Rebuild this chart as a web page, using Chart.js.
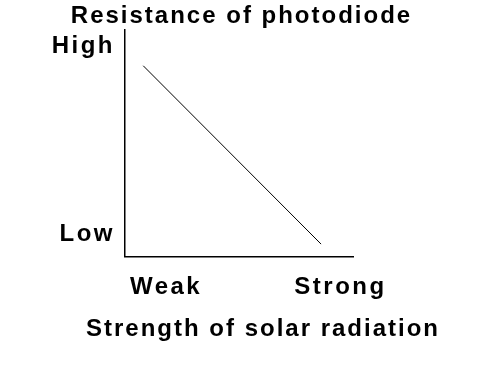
<!DOCTYPE html>
<html>
<head>
<meta charset="utf-8">
<script src="https://cdn.jsdelivr.net/npm/chart.js@4.4.1/dist/chart.umd.min.js"></script>
<style>
    html, body { margin: 0; padding: 0; background: #fff; }
    #wrap { width: 496px; height: 370px; }
</style>
</head>
<body>
<div id="wrap"><canvas id="chart"></canvas></div>
<script>
// sketch values (axis runs 0..10 both ways)
const lineX = [0.8, 8.6];
const lineY = [8.4, 0.55];
const xTickValues = [1.8, 9.45];
const xTickLabels = ["Weak", "Strong"];
const yTickValues = [0.98, 9.25];
const yTickLabels = ["Low", "High"];

const FONT = "'Liberation Sans', Arial, sans-serif";

// the scanned lettering is spaced out, the tick words a bit more than the titles
const spacingPlugin = {
    id: "spacing",
    beforeLayout(chart) { chart.ctx.letterSpacing = "2px"; },
    beforeDraw(chart) { chart.ctx.letterSpacing = "2px"; },
    afterDatasetsDraw(chart) { chart.ctx.letterSpacing = "2.5px"; }
};

document.addEventListener("DOMContentLoaded", () => {
    const ctx = document.getElementById("chart").getContext("2d");

    new Chart(ctx, {
        type: "line",
        data: {
            datasets: [{
                data: lineX.map((x, i) => ({ x: x, y: lineY[i] })),
                borderColor: "#000",
                borderWidth: 1,
                pointRadius: 0,
                fill: false,
                tension: 0
            }]
        },
        options: {
            responsive: true,
            maintainAspectRatio: false,
            animation: false,
            layout: { padding: { left: 43, right: 56, top: 0, bottom: 0 } },
            plugins: {
                legend: { display: false },
                tooltip: { enabled: false },
                title: {
                    display: true,
                    text: "Resistance of photodiode",
                    color: "#000",
                    font: { family: FONT, size: 24, weight: "bold", lineHeight: 1.1 },
                    padding: { top: 3, bottom: 0 }
                },
                subtitle: {
                    display: true,
                    position: "bottom",
                    align: "end",
                    text: "Strength of solar radiation",
                    color: "#000",
                    font: { family: FONT, size: 24, weight: "bold", lineHeight: 1.1 },
                    padding: { top: 0, bottom: 27 }
                }
            },
            scales: {
                x: {
                    type: "linear",
                    min: 0,
                    max: 10,
                    grid: { display: false, drawTicks: false },
                    border: { display: true, color: "#000", width: 1.5 },
                    afterBuildTicks: scale => { scale.ticks = xTickValues.map(v => ({ value: v })); },
                    afterFit: scale => { scale.height = 60; },
                    ticks: {
                        autoSkip: false,
                        maxRotation: 0,
                        padding: 16,
                        z: 1,
                        color: "#000",
                        font: { family: FONT, size: 24, weight: "bold" },
                        callback: value => xTickLabels[xTickValues.indexOf(value)]
                    }
                },
                y: {
                    type: "linear",
                    min: 0,
                    max: 10,
                    grid: { display: false, drawTicks: false },
                    border: { display: true, color: "#000", width: 1.5 },
                    afterBuildTicks: scale => { scale.ticks = yTickValues.map(v => ({ value: v })); },
                    afterFit: scale => { scale.width = 82; },
                    ticks: {
                        autoSkip: false,
                        padding: 10,
                        z: 1,
                        color: "#000",
                        font: { family: FONT, size: 24, weight: "bold" },
                        callback: value => yTickLabels[yTickValues.indexOf(value)]
                    }
                },
                spacer: {
                    type: "linear",
                    position: "right",
                    display: true,
                    grid: { display: false, drawTicks: false },
                    border: { display: false },
                    ticks: { display: false },
                    afterFit: scale => { scale.width = 87; }
                }
            }
        },
        plugins: [spacingPlugin]
    });
});
</script>
</body>
</html>
